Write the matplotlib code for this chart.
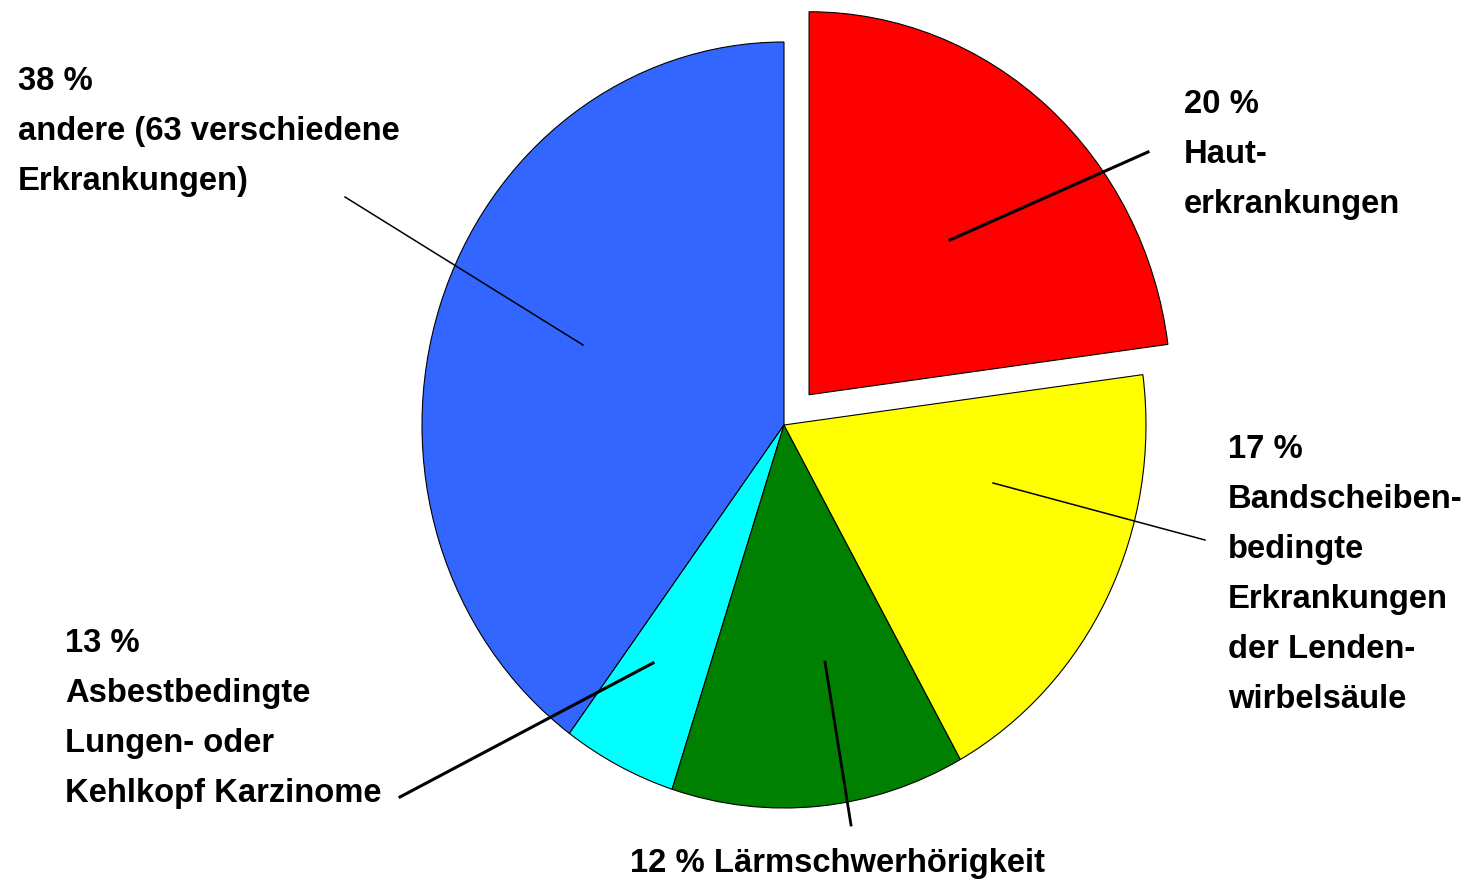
import matplotlib
matplotlib.use('Agg')
import matplotlib.pyplot as plt

plt.rcParams['font.family'] = ['Liberation Sans', 'DejaVu Sans']

# ==================== Daten (Anteile wie im Bild gezeichnet) ====================
categories = ['andere', 'Asbest', 'Laerm', 'Bandscheibe', 'Haut']
slice_values = [39.9, 5.1, 13.1, 19.0, 22.9]   # Winkel
slice_colors = ['#3366FF', '#00FFFF', '#008000', '#FFFF00', '#FF0000']
explode = [0, 0, 0, 0, 0.105]

label_texts = [
    '38 %\nandere (63 verschiedene\nErkrankungen)',
    '13 %\nAsbestbedingte\nLungen- oder\nKehlkopf Karzinome',
    '12 % Lärmschwerhörigkeit',
    '17 %\nBandscheiben-\nbedingte\nErkrankungen\nder Lenden-\nwirbelsäule',
    '20 %\nHaut-\nerkrankungen',
]

# Beschriftungspositionen (Pixel, oben links) und Hinweislinien
label_pos = [(18, 90), (65, 652), (630, 872), (1228, 458), (1184, 113)]
leader_lines = [((583, 345), (345, 197), 1.1),
                ((653, 663), (400, 797), 2.2),
                ((825, 662), (851, 825), 2.0),
                ((993, 483), (1205, 540), 1.1),
                ((950, 240), (1148, 152), 2.2)]

# ==================== Layout ====================
W, H = 1468, 880
cx, cy, rx, ry = 784, 425, 362, 383

fig = plt.figure(figsize=(W / 100, H / 100), dpi=100)
ax = fig.add_axes([0, 0, 1, 1])

ax.pie(slice_values, colors=slice_colors, explode=explode, startangle=90,
       counterclock=True, radius=1,
       wedgeprops=dict(edgecolor='black', linewidth=0.8))
ax.set_aspect('auto')
ax.set_xlim(-cx / rx, (W - cx) / rx)
ax.set_ylim((cy - H) / ry, cy / ry)
ax.axis('off')


def px(x, y):
    return x / W, 1 - y / H


for (p0, p1, lw) in leader_lines:
    x0, y0 = px(*p0)
    x1, y1 = px(*p1)
    fig.add_artist(plt.Line2D([x0, x1], [y0, y1], transform=fig.transFigure,
                              color='black', linewidth=lw))

for txt, (x, y) in zip(label_texts, label_pos):
    for i, line in enumerate(txt.split('\n')):
        fx, fy = px(x, y + i * 50)
        fig.text(fx, fy, line, ha='left', va='baseline', fontsize=23.6,
                 fontweight='bold', color='black')

fig.savefig('out.png', dpi=100, facecolor='white')
plt.close(fig)
